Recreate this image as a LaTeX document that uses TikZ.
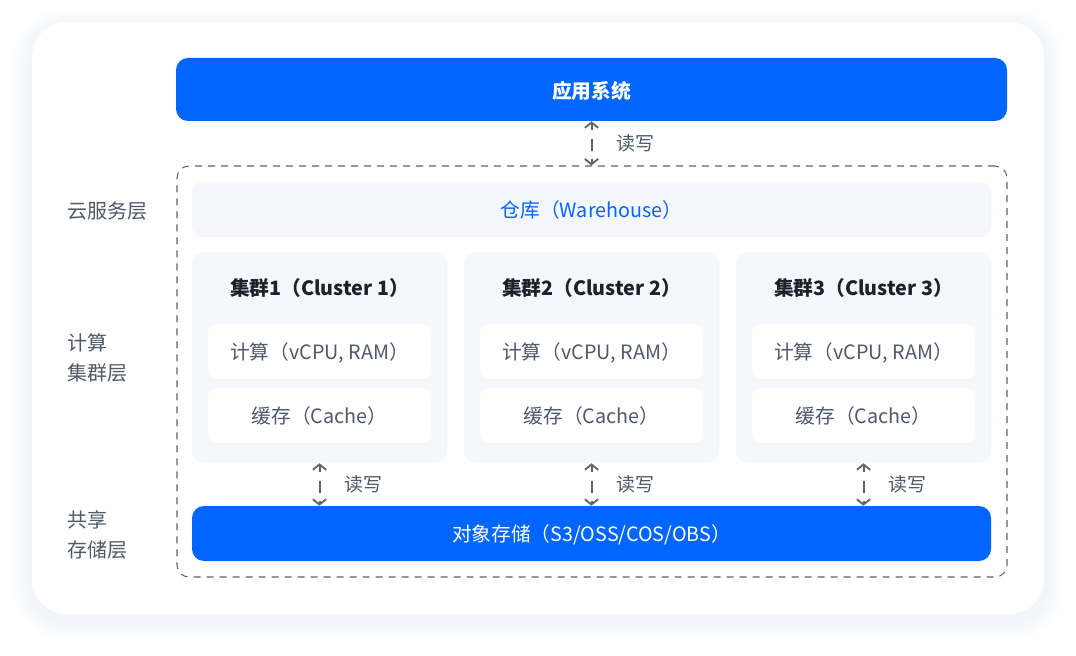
\documentclass[tikz,border=0pt]{standalone}
\usepackage{fontspec}
\setmainfont{Noto Sans CJK SC}
\usetikzlibrary{arrows.meta,positioning}

\definecolor{brandblue}{HTML}{0066FF}
\definecolor{panelgray}{HTML}{F5F7FC}
\definecolor{inkdark}{HTML}{1D2129}
\definecolor{inkgray}{HTML}{4E5969}
\definecolor{linegray}{HTML}{5C6373}
\definecolor{shadowblue}{HTML}{C8D4F0}

\tikzset{
  txt/.style={font=\fontsize{14.8}{17}\selectfont, text depth=0pt},
  ttl/.style={font=\fontsize{14.8}{17}\selectfont\bfseries, text depth=0pt},
  card/.style={rectangle, rounded corners=26pt, fill=white, inner sep=0pt},
  bluebar/.style={rectangle, rounded corners=9pt, fill=brandblue, text=white, inner sep=0pt},
  panel/.style={rectangle, rounded corners=8pt, fill=panelgray, inner sep=0pt},
  slot/.style={rectangle, rounded corners=6pt, fill=white, text=inkgray, inner sep=0pt,
    minimum width=167.25pt, minimum height=41.25pt, txt},
  rw/.style={{Straight Barb[length=4pt,width=10pt,line width=1.4pt]}-{Straight Barb[length=4pt,width=10pt,line width=1.4pt]},
    draw=linegray, line width=1.5pt, dash pattern=on 5pt off 6.5pt on 9pt off 6.5pt on 5pt off 50pt},
  rwlabel/.style={text=inkgray, inner sep=0pt, font=\fontsize{14.2}{16}\selectfont},
  layer/.style={text=inkgray, inner sep=0pt, align=left, anchor=west, font=\fontsize{15}{22}\selectfont},
}

\begin{document}
\begin{tikzpicture}[x=0.75pt,y=-0.75pt]
    \useasboundingbox (0,0) rectangle (1076,656);

    % --- soft shadow of the card ---
    \foreach \k [evaluate=\k as \r using 26+1.5*\k] in {1,...,10}
        \fill[shadowblue, opacity=0.028, rounded corners=\r pt]
            (32-2*\k, 28-2*\k) rectangle (1044+2*\k, 620+2*\k);

    % --- card ---
    \node[card, minimum width=759pt, minimum height=444pt] (card) at (538,318) {};

    % --- layer labels ---
    \node[layer] (lyr1) at (67,211) {云服务层};
    \node[layer] (lyr2) at (67,358) {计算\\集群层};
    \node[layer] (lyr3) at (67,535) {共享\\存储层};

    % --- application ---
    \node[bluebar, ttl, minimum width=623.25pt, minimum height=47.25pt] (app) at (591.5,89.5) {应用系统};

    % --- dashed frame ---
    \node[draw=linegray, line width=0.8pt, dash pattern=on 5.25pt off 4.5pt, rounded corners=9pt,
          minimum width=622.5pt, minimum height=308.25pt, inner sep=0pt] (cloud) at (592,371.5) {};

    \draw[rw] (app.south) -- (app.south |- cloud.north)
        node[rwlabel, midway, right=18pt] (rw0) {读写};

    % --- warehouse ---
    \node[panel, txt, text=brandblue, minimum width=599.25pt, minimum height=41.25pt] (wh) at (591.5,209.5) {仓库（Warehouse）};

    % --- object storage ---
    \node[bluebar, txt, minimum width=599.25pt, minimum height=41.25pt] (store) at (591.5,533.5) {对象存储（S3/OSS/COS/OBS）};

    % --- clusters ---
    \foreach \i/\cx in {1/319.5, 2/591.5, 3/863.5} {
        \node[panel, rounded corners=9pt, minimum width=191.25pt, minimum height=158.25pt] (cl\i) at (\cx,357.5) {};
        \node[ttl, text=inkdark] (ct\i) at (\cx,287) {集群\i（Cluster \i）};
        \node[slot] (cpu\i) at (\cx,351.5) {计算（vCPU, RAM）};
        \node[slot] (mem\i) at (\cx,415.5) {缓存（Cache）};
        \draw[rw] (cl\i.south) -- (cl\i.south |- store.north)
            node[rwlabel, midway, right=18pt] (rw\i) {读写};
    }
\end{tikzpicture}
\end{document}
